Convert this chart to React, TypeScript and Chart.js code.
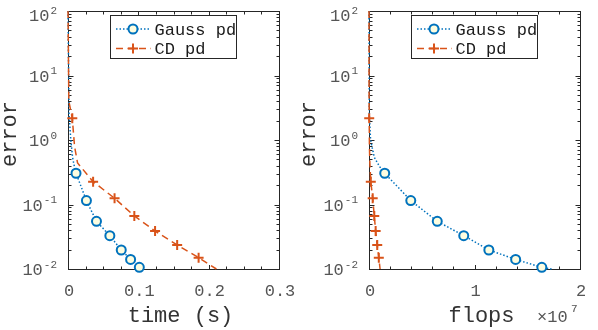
import React, { useEffect, useRef } from "react";
import { Chart, registerables } from "chart.js";

Chart.register(...registerables);

// ---------------- data ----------------
const gaussErr = [100, 2.5, 1.0, 0.54, 0.39, 0.305, 0.115, 0.0548, 0.0329, 0.0197, 0.0141, 0.0106, 0.01];
const gaussTime = [0, 0.0015, 0.004, 0.0065, 0.009, 0.0114, 0.0262, 0.0405, 0.0595, 0.0757, 0.089, 0.1014, 0.104];
const gaussFlops = [0, 0.003, 0.015, 0.05, 0.099, 0.149, 0.396, 0.647, 0.898, 1.136, 1.39, 1.638, 1.73]; // x 10^7
const gaussMarkers = [5, 6, 7, 8, 9, 10, 11];

const cdErr = [100, 4, 2.17, 0.8, 0.44, 0.226, 0.125, 0.0664, 0.0388, 0.0236, 0.015, 0.01];
const cdTime = [0, 0.0012, 0.0061, 0.0093, 0.0136, 0.0357, 0.0662, 0.0943, 0.1238, 0.1552, 0.1857, 0.211];
const cdFlops = [0, 0.0005, 0.002, 0.004, 0.008, 0.017, 0.035, 0.05, 0.063, 0.078, 0.093, 0.105]; // x 10^7
const cdMarkers = [2, 5, 6, 7, 8, 9, 10];

const seriesNames = ["Gauss pd", "CD pd"];
const yLabel = "error";
const yExponents = [2, 1, 0, -1, -2];
const timeTicks = [0, 0.1, 0.2, 0.3];
const timeTickLabels = ["0", "0.1", "0.2", "0.3"];
const flopsTicks = [0, 1, 2];
const flopsTickLabels = ["0", "1", "2"];

// ---------------- style ----------------
const BLUE = "#0072BD";
const ORANGE = "#D95319";
const MARKER_FILL = "#FDFDE0";
const AXIS = "#262626";
const TICK_TEXT = "#555555";
const TITLE_TEXT = "#333333";
const FONT = '"Liberation Mono", "DejaVu Sans Mono", monospace';

type Panel = {
  gaussX: number[];
  cdX: number[];
  xMax: number;
  xMinor: number;
  ticks: number[];
  tickLabels: string[];
  xLabel: string;
  exponent: string | null;
  padLeft: number;
  padRight: number;
  left: number;
};

const panels: Panel[] = [
  {
    gaussX: gaussTime, cdX: cdTime, xMax: 0.3, xMinor: 0.025,
    ticks: timeTicks, tickLabels: timeTickLabels, xLabel: "time (s)", exponent: null,
    padLeft: 68, padRight: 20, left: 0,
  },
  {
    gaussX: gaussFlops, cdX: cdFlops, xMax: 2, xMinor: 0.2,
    ticks: flopsTicks, tickLabels: flopsTickLabels, xLabel: "flops", exponent: "7",
    padLeft: 70, padRight: 18, left: 299,
  },
];

function makePlugin(p: Panel) {
  return {
    id: "matlabAxes",
    beforeDatasetsDraw(chart: any) {
      const { ctx, chartArea: a, scales } = chart;
      const xs = scales.x, ys = scales.y;
      const L = Math.round(a.left) + 0.5, R = Math.round(a.right) + 0.5;
      const T = Math.round(a.top) + 0.5, B = Math.round(a.bottom) + 0.5;
      ctx.save();
      ctx.strokeStyle = AXIS;
      ctx.lineWidth = 1;
      ctx.strokeRect(L, T, R - L, B - T);
      ctx.beginPath();
      const n = Math.round(p.xMax / p.xMinor);
      for (let k = 0; k <= n; k++) {
        const v = k * p.xMinor;
        const px = Math.round(xs.getPixelForValue(v)) + 0.5;
        const major = p.ticks.some((t) => Math.abs(t - v) < 1e-9);
        const len = major ? 4.5 : 3;
        ctx.moveTo(px, B); ctx.lineTo(px, B - len);
        ctx.moveTo(px, T); ctx.lineTo(px, T + len);
      }
      for (let e = -2; e <= 2; e++) {
        for (let m = 1; m <= 9; m++) {
          if (e === 2 && m > 1) break;
          const v = m * Math.pow(10, e);
          const py = Math.round(ys.getPixelForValue(v)) + 0.5;
          const len = m === 1 ? 5 : 3;
          ctx.moveTo(L, py); ctx.lineTo(L + len, py);
          ctx.moveTo(R, py); ctx.lineTo(R - len, py);
        }
      }
      ctx.stroke();
      ctx.restore();
    },
    afterDatasetsDraw(chart: any) {
      const { ctx, chartArea: a } = chart;
      const bw = 126, bh = 43;
      const bx = Math.round(a.right - 42.7 - bw) + 0.5;
      const by = 15.5;
      ctx.save();
      ctx.fillStyle = "#ffffff";
      ctx.fillRect(bx, by, bw, bh);
      ctx.strokeStyle = AXIS;
      ctx.lineWidth = 1;
      ctx.strokeRect(bx, by, bw, bh);
      const rows = [by + 13.5, by + 33];
      const mx = bx + 22.5;
      // Gauss sample
      ctx.strokeStyle = BLUE;
      ctx.lineWidth = 1.5;
      ctx.setLineDash([1.5, 2]);
      ctx.beginPath();
      ctx.moveTo(bx + 5.5, rows[0]); ctx.lineTo(bx + 40.5, rows[0]);
      ctx.stroke();
      ctx.setLineDash([]);
      ctx.lineWidth = 2;
      ctx.fillStyle = MARKER_FILL;
      ctx.beginPath();
      ctx.arc(mx, rows[0], 4.5, 0, Math.PI * 2);
      ctx.fill();
      ctx.stroke();
      // CD sample
      ctx.strokeStyle = ORANGE;
      ctx.lineWidth = 1.5;
      ctx.setLineDash([7, 4.5]);
      ctx.beginPath();
      ctx.moveTo(bx + 5.5, rows[1]); ctx.lineTo(bx + 40.5, rows[1]);
      ctx.stroke();
      ctx.setLineDash([]);
      ctx.lineWidth = 2;
      ctx.beginPath();
      ctx.moveTo(mx - 5, rows[1]); ctx.lineTo(mx + 5, rows[1]);
      ctx.moveTo(mx, rows[1] - 5); ctx.lineTo(mx, rows[1] + 5);
      ctx.stroke();
      // text
      ctx.fillStyle = "#1a1a1a";
      ctx.font = `17px ${FONT}`;
      ctx.textAlign = "left";
      ctx.textBaseline = "alphabetic";
      ctx.fillText(seriesNames[0], bx + 44, rows[0] + 5.5);
      ctx.fillText(seriesNames[1], bx + 44, rows[1] + 5.5);
      ctx.restore();
    },
    afterDraw(chart: any) {
      const { ctx, chartArea: a, scales } = chart;
      const xs = scales.x, ys = scales.y;
      ctx.save();
      ctx.fillStyle = TICK_TEXT;
      ctx.textBaseline = "alphabetic";
      // x tick labels
      ctx.font = `17px ${FONT}`;
      ctx.textAlign = "center";
      p.ticks.forEach((t, i) => {
        ctx.fillText(p.tickLabels[i], xs.getPixelForValue(t) + 1, 296);
      });
      // y tick labels 10^e
      yExponents.forEach((e) => {
        const py = ys.getPixelForValue(Math.pow(10, e)) + (e === 2 ? 4 : 0);
        const ex = String(e);
        ctx.font = `11px ${FONT}`;
        const ew = ctx.measureText(ex).width;
        const right = a.left - 11;
        ctx.textAlign = "left";
        ctx.fillText(ex, right - ew, py - 1.5);
        ctx.font = `17px ${FONT}`;
        ctx.textAlign = "right";
        ctx.fillText("10", right - ew - 1, py + 6);
      });
      // x10^7 exponent
      if (p.exponent) {
        ctx.font = `17px ${FONT}`;
        ctx.textAlign = "left";
        ctx.fillText("\u00d710", a.right - 43, 322);
        ctx.font = `11px ${FONT}`;
        ctx.fillText(p.exponent, a.right - 9, 312);
      }
      // axis titles
      ctx.fillStyle = TITLE_TEXT;
      ctx.font = `22px ${FONT}`;
      ctx.textAlign = "center";
      ctx.fillText(p.xLabel, (a.left + a.right) / 2 + 7, 322);
      ctx.save();
      ctx.translate(15.5, (a.top + a.bottom) / 2 - 6);
      ctx.rotate(-Math.PI / 2);
      ctx.fillText(yLabel, 0, 0);
      ctx.restore();
      ctx.restore();
    },
  };
}

function makeConfig(p: Panel): any {
  const gaussData = p.gaussX.map((x, i) => ({ x, y: gaussErr[i] }));
  const cdData = p.cdX.map((x, i) => ({ x, y: cdErr[i] }));
  return {
    type: "line",
    data: {
      datasets: [
        {
          label: seriesNames[0],
          data: gaussData,
          borderColor: BLUE,
          borderWidth: 1.5,
          borderDash: [1.5, 2],
          fill: false,
          tension: 0,
          clip: false,
          pointStyle: "circle",
          pointRadius: gaussData.map((_, i) => (gaussMarkers.includes(i) ? 4.5 : 0)),
          pointBackgroundColor: MARKER_FILL,
          pointBorderColor: BLUE,
          pointBorderWidth: 2,
          order: 2,
        },
        {
          label: seriesNames[1],
          data: cdData,
          borderColor: ORANGE,
          borderWidth: 1.5,
          borderDash: [7, 4.5],
          fill: false,
          tension: 0,
          clip: false,
          pointStyle: "cross",
          pointRadius: cdData.map((_, i) => (cdMarkers.includes(i) ? 5 : 0)),
          pointBackgroundColor: ORANGE,
          pointBorderColor: ORANGE,
          pointBorderWidth: 2,
          order: 1,
        },
      ],
    },
    options: {
      responsive: false,
      animation: false,
      events: [],
      layout: { padding: { left: p.padLeft, right: p.padRight, top: 11, bottom: 61 } },
      plugins: { legend: { display: false }, tooltip: { enabled: false } },
      scales: {
        x: { type: "linear", min: 0, max: p.xMax, display: false },
        y: { type: "logarithmic", min: 0.01, max: 100, display: false },
      },
    },
    plugins: [makePlugin(p)],
  };
}

function Panel({ p }: { p: Panel }) {
  const ref = useRef<HTMLCanvasElement | null>(null);
  useEffect(() => {
    if (!ref.current) return;
    const chart = new Chart(ref.current, makeConfig(p));
    return () => chart.destroy();
  }, [p]);
  return (
    <canvas
      ref={ref}
      width={299}
      height={330}
      style={{ position: "absolute", left: p.left, top: 0, width: 299, height: 330 }}
    />
  );
}

export default function App() {
  return (
    <div style={{ position: "absolute", left: 0, top: 0, width: 598, height: 330, background: "#ffffff" }}>
      {panels.map((p, i) => (
        <Panel key={i} p={p} />
      ))}
    </div>
  );
}
